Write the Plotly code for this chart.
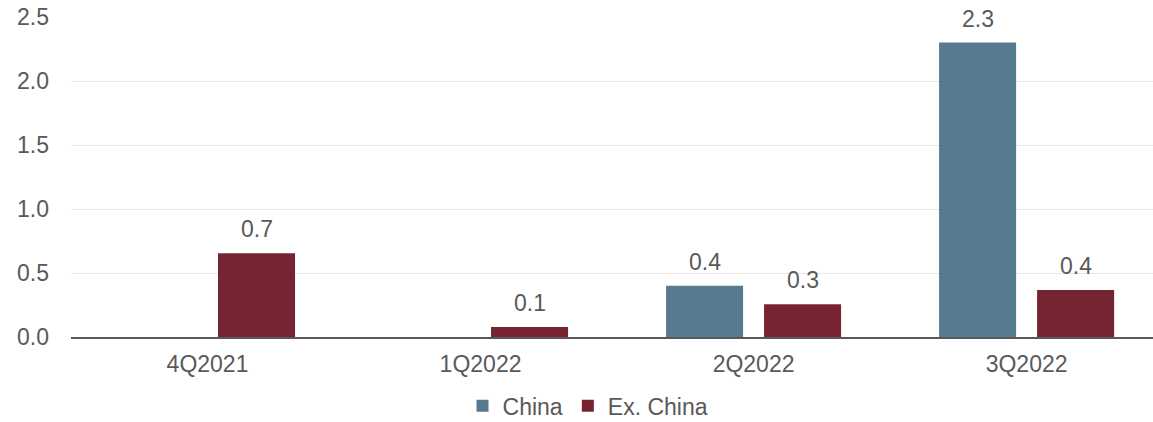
import plotly.graph_objects as go

categories = ["4Q2021", "1Q2022", "2Q2022", "3Q2022"]
china = [None, None, 0.40, 2.30]
ex_china = [0.654, 0.078, 0.255, 0.367]
y_ticks = [0.0, 0.5, 1.0, 1.5, 2.0, 2.5]
y_tick_labels = ["0.0", "0.5", "1.0", "1.5", "2.0", "2.5"]

W, H = 1153, 422
ML, MR, MT, MB = 71, 0, 17, 85
X_RANGE = [-0.5, 3.463]
BARGAP, BARGROUPGAP = 0.282, 0.214
FS = 23
font_color = "#595959"
colors = {"China": "#587A91", "Ex. China": "#772432"}

fig = go.Figure()
for name, vals in [("China", china), ("Ex. China", ex_china)]:
    fig.add_trace(go.Bar(
        x=categories, y=vals, name=name,
        marker=dict(color=colors[name], line=dict(width=0)),
    ))

# value labels placed over each bar via the axes
plot_w = W - ML - MR
cat_w = plot_w / (X_RANGE[1] - X_RANGE[0])
slot = cat_w * (1 - BARGAP) / 2
for i, (name, vals) in enumerate([("China", china), ("Ex. China", ex_china)]):
    xs = (i - 0.5) * slot
    for c, v in zip(categories, vals):
        if v is None:
            continue
        fig.add_annotation(x=c, y=v, xref="x", yref="y", text=f"{v:.1f}",
                           showarrow=False, yanchor="bottom", xanchor="center",
                           xshift=xs, yshift=9,
                           font=dict(size=FS, color=font_color))

fig.update_layout(
    width=W, height=H,
    margin=dict(l=ML, r=MR, t=MT, b=MB, autoexpand=False),
    paper_bgcolor="white", plot_bgcolor="white",
    font=dict(family="Liberation Sans, Arial", size=FS, color=font_color),
    barmode="group", bargap=BARGAP, bargroupgap=BARGROUPGAP,
    showlegend=True,
    legend=dict(orientation="h", x=0.51, xref="container", xanchor="center",
                y=-0.215, yref="paper", yanchor="middle",
                font=dict(size=FS, color=font_color), itemwidth=30,
                traceorder="normal", tracegroupgap=0),
)
fig.update_xaxes(range=X_RANGE, showline=True, linecolor="#595959", linewidth=1.5,
                 ticks="", tickfont=dict(size=FS, color=font_color), showgrid=False,
                 ticklabelstandoff=6)
fig.update_yaxes(range=[0, 2.5], tickvals=y_ticks, ticktext=y_tick_labels,
                 showgrid=True, gridcolor="#E6E6E6", gridwidth=1, zeroline=False,
                 showline=False, ticks="", ticklabelstandoff=21,
                 tickfont=dict(size=FS, color=font_color))
fig.write_html("out.html")
